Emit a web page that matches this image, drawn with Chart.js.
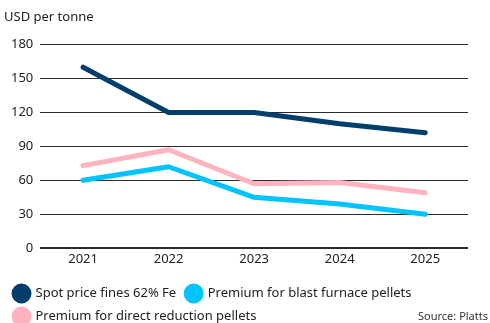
<!DOCTYPE html>
<html>
<head>
<meta charset="utf-8">
<script src="https://cdn.jsdelivr.net/npm/chart.js@4/dist/chart.umd.min.js"></script>
<style>
  html, body { margin: 0; padding: 0; background: #fff; }
  #wrap { width: 490px; height: 323px; position: relative; }
</style>
</head>
<body>
<div id="wrap"><canvas id="c" width="490" height="323"></canvas></div>
<script>
// Iron ore price and pellet premiums, USD per tonne
const years = ['2021', '2022', '2023', '2024', '2025'];
const spotFines = [160, 120, 120, 110, 102];
const blastFurnacePremium = [60, 72, 45, 39, 30];
const directReductionPremium = [73, 87, 57, 58, 49];
const yTicks = [0, 30, 60, 90, 120, 150, 180];

const FONT = '"Noto Sans", "Open Sans", sans-serif';

const sourceNote = {
  id: 'sourceNote',
  afterDraw(chart) {
    const ctx = chart.ctx;
    ctx.save();
    ctx.font = '11px ' + FONT;
    ctx.fillStyle = '#333';
    ctx.textAlign = 'right';
    ctx.textBaseline = 'middle';
    ctx.fillText('Source: Platts', 488, 317);
    ctx.restore();
  }
};

const line = (label, data, color) => ({
  label, data,
  borderColor: color,
  backgroundColor: color,
  borderWidth: 5,
  borderCapStyle: 'round',
  borderJoinStyle: 'round',
  pointRadius: 0,
  pointHoverRadius: 0,
  tension: 0
});

new Chart(document.getElementById('c'), {
  type: 'line',
  data: {
    labels: years,
    datasets: [
      line('Spot price fines 62% Fe', spotFines, '#003f6b'),
      line('Premium for blast furnace pellets', blastFurnacePremium, '#00c3ff'),
      line('Premium for direct reduction pellets', directReductionPremium, '#ffb3bf')
    ]
  },
  options: {
    responsive: false,
    animation: false,
    devicePixelRatio: 1,
    layout: { padding: { left: 4, right: 22, top: 4, bottom: -10 } },
    plugins: {
      tooltip: { enabled: false },
      title: {
        display: true,
        text: 'USD per tonne',
        align: 'start',
        color: '#222',
        font: { family: FONT, size: 13, weight: 'normal' },
        padding: { top: 5, bottom: 20 }
      },
      legend: {
        position: 'bottom',
        align: 'start',
        title: {
          display: true,
          text: '',
          font: { size: 1 },
          padding: { top: 6, bottom: 0 }
        },
        labels: {
          usePointStyle: true,
          pointStyle: 'circle',
          boxHeight: 10.6,
          pointStyleWidth: 15,
          color: '#222',
          padding: 10,
          font: { family: FONT, size: 13 }
        }
      }
    },
    scales: {
      x: {
        offset: true,
        grid: { display: false, drawTicks: false },
        border: { display: false },
        ticks: { color: '#222', font: { family: FONT, size: 13 }, padding: 3 }
      },
      y: {
        min: 0, max: 180,
        afterBuildTicks(axis) { axis.ticks = yTicks.map(v => ({ value: v })); },
        grid: {
          color: '#2a2a2a',
          lineWidth: ctx => (ctx.tick && ctx.tick.value === 0 ? 2 : 1),
          drawTicks: false
        },
        border: { display: false },
        ticks: { color: '#222', font: { family: FONT, size: 13 }, padding: 7 }
      }
    }
  },
  plugins: [sourceNote]
});
</script>
</body>
</html>
